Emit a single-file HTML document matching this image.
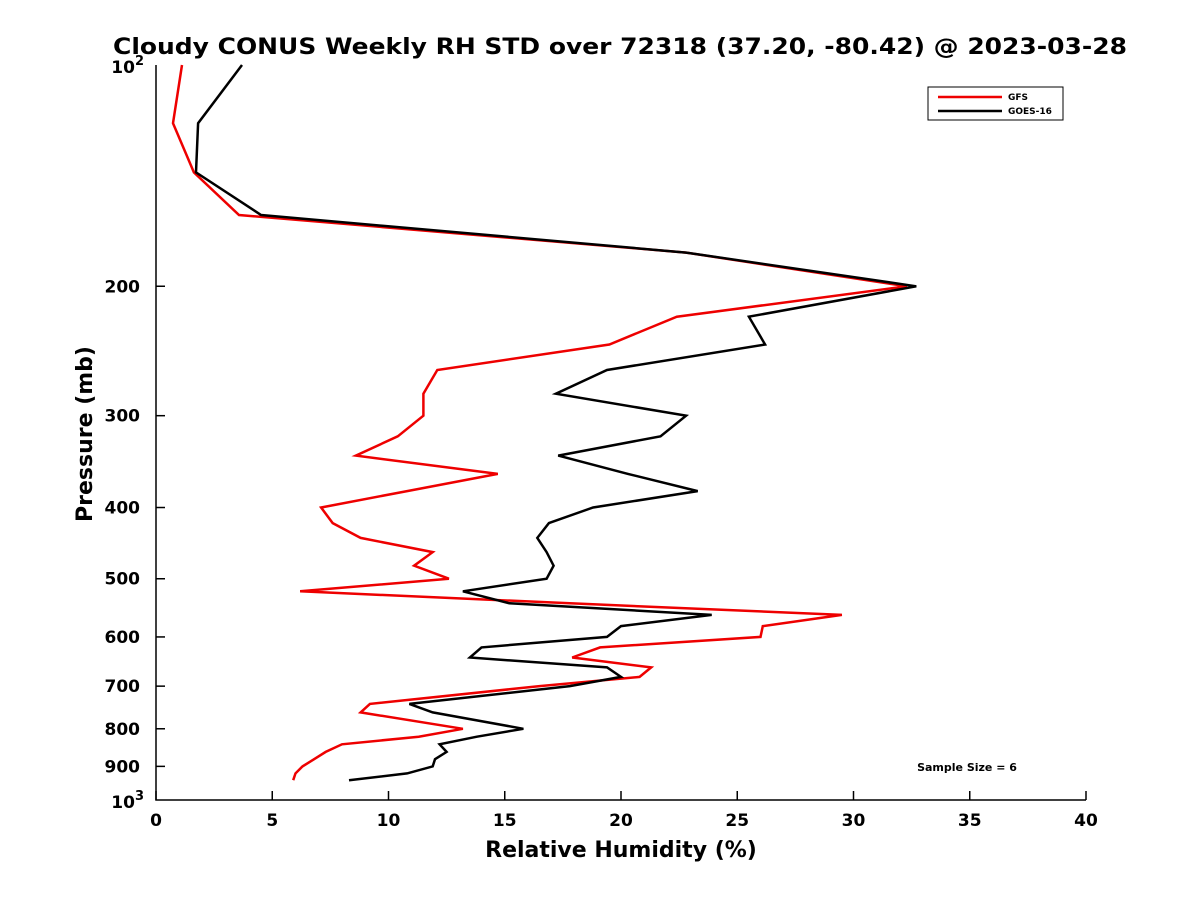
<!DOCTYPE html>
<html><head><meta charset="utf-8"><style>
body{margin:0;background:#fff;}
svg{display:block;font-family:"DejaVu Sans","Liberation Sans",sans-serif;font-weight:bold;}
</style></head><body>
<svg id="chart" width="1200" height="900" viewBox="0 0 1200 900" xmlns="http://www.w3.org/2000/svg">
<rect width="1200" height="900" fill="#fff"/>
<text x="620" y="54" text-anchor="middle" font-size="22" textLength="1014" lengthAdjust="spacingAndGlyphs">Cloudy CONUS Weekly RH STD over 72318 (37.20, -80.42) @ 2023-03-28</text>
<g id="axes"></g>
<g id="series"></g>
<g>
<rect x="928" y="87" width="135" height="33" fill="#fff" stroke="#000" stroke-width="1"/>
<line x1="938" y1="97" x2="1002" y2="97" stroke="#e00" stroke-width="2.5"/>
<text x="1008" y="100" font-size="9">GFS</text>
<line x1="938" y1="111" x2="1002" y2="111" stroke="#000" stroke-width="2.5"/>
<text x="1008" y="114" font-size="9">GOES-16</text>
</g>
<text x="967" y="771" text-anchor="middle" font-size="11">Sample Size = 6</text>
<text x="621" y="857" text-anchor="middle" font-size="22">Relative Humidity (%)</text>
<text transform="translate(92,434) rotate(-90)" text-anchor="middle" font-size="22">Pressure (mb)</text>
</svg>
<script>
const pressures=[100,120,140,160,180,200,220,240,260,280,300,320,340,360,380,400,420,440,460,480,500,520,540,560,580,600,620,640,660,680,700,740,760,800,820,840,860,880,900,920,940];
const gfsRH=[1.12,0.73,1.63,3.57,22.8,32.3,22.4,19.5,12.1,11.5,11.5,10.4,8.6,14.7,10.8,7.1,7.6,8.8,11.9,11.1,12.6,6.2,17.8,29.5,26.1,26.0,19.1,17.9,21.3,20.8,16.5,9.2,8.8,13.2,11.3,8.0,7.3,6.8,6.3,6.0,5.9];
const goesRH=[3.70,1.81,1.72,4.52,22.8,32.7,25.5,26.2,19.4,17.2,22.8,21.7,17.3,20.3,23.3,18.8,16.9,16.4,16.8,17.1,16.8,13.2,15.2,23.9,20.0,19.4,14.0,13.5,19.4,20.0,17.8,10.9,11.9,15.8,13.8,12.2,12.5,12.0,11.9,10.8,8.3];
const xTicks=[0,5,10,15,20,25,30,35,40];
const yTicks=[200,300,400,500,600,700,800,900];
const X0=156,X1=1086,Y0=65,Y1=800;
function xs(v){return X0+(v-0)/40*(X1-X0);}
function ys(p){return Y0+Math.log10(p/100)*(Y1-Y0);}
const NS="http://www.w3.org/2000/svg";
function mk(t,a){const e=document.createElementNS(NS,t);for(const k in a)e.setAttribute(k,a[k]);return e;}
const ax=document.getElementById('axes');
let l=mk('path',{d:`M${X0},${Y0}V${Y1}H${X1}`,fill:'none',stroke:'#000','stroke-width':1.5});


ax.appendChild(l);
xTicks.forEach(v=>{
 const t=mk('line',{x1:xs(v),x2:xs(v),y1:Y1,y2:Y1-9,stroke:'#000','stroke-width':1.5});
 
 
 ax.appendChild(t);
 const tx=mk('text',{x:xs(v),y:Y1+26,'text-anchor':'middle','font-size':17});
 
 
 tx.textContent=v;ax.appendChild(tx);
});
yTicks.forEach(p=>{
 const t=mk('line',{x1:X0,x2:X0+9,y1:ys(p),y2:ys(p),stroke:'#000','stroke-width':1.5});
 
 
 ax.appendChild(t);
 const tx=mk('text',{x:X0-16,y:ys(p)+6,'text-anchor':'end','font-size':17});
 
 
 tx.textContent=p;ax.appendChild(tx);
});
[[100,'2'],[1000,'3']].forEach(([p,e])=>{
 const tx=mk('text',{x:X0-12,y:ys(p)+8,'text-anchor':'end','font-size':17});
 
 
 tx.innerHTML='10<tspan dy="-8" font-size="13">'+e+'</tspan>';
 ax.appendChild(tx);
});
const sg=document.getElementById('series');
function line(vals,color,name){
 const d=vals.map((v,i)=>(i?'L':'M')+xs(v).toFixed(1)+','+ys(pressures[i]).toFixed(1)).join('');
 const p=mk('path',{d:d,fill:'none',stroke:color,'stroke-width':2.5,'stroke-linejoin':'miter'});
 
 
 sg.appendChild(p);
}
line(gfsRH,'#e00','gfs-line');
line(goesRH,'#000','goes16-line');
</script>
</body></html>
